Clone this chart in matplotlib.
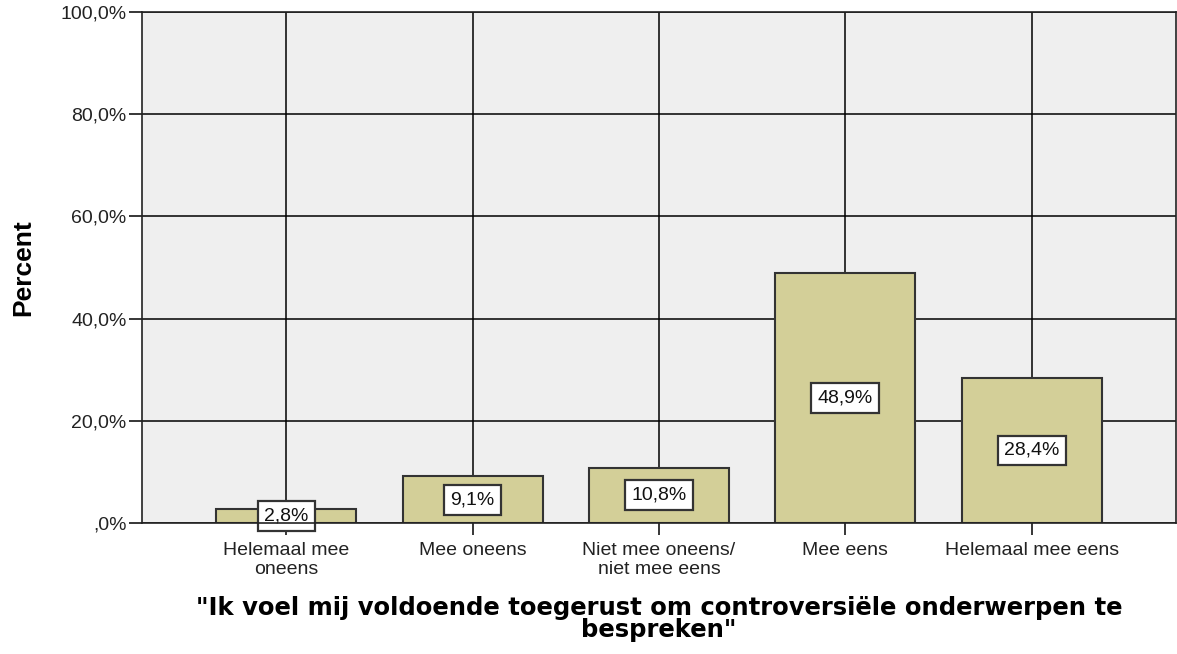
import matplotlib
matplotlib.use("Agg")
import matplotlib.pyplot as plt

# --- Data ---
categories = ["Helemaal mee\noneens", "Mee oneens", "Niet mee oneens/\nniet mee eens",
              "Mee eens", "Helemaal mee eens"]
percent = [2.8, 9.1, 10.8, 48.9, 28.4]
value_labels = ["2,8%", "9,1%", "10,8%", "48,9%", "28,4%"]
y_ticks = [0, 20, 40, 60, 80, 100]
y_ticklabels = [",0%", "20,0%", "40,0%", "60,0%", "80,0%", "100,0%"]

x_title = "\"Ik voel mij voldoende toegerust om controversiële onderwerpen te\nbespreken\""
y_title = "Percent"

plt.rcParams["font.family"] = ["Liberation Sans", "DejaVu Sans"]

# --- Plot ---
fig = plt.figure(figsize=(11.77, 6.54), dpi=100)
ax = fig.add_axes([0.1206, 0.2003, 0.8786, 0.7814])
ax.set_facecolor("#efefef")

x = list(range(len(categories)))
ax.bar(x, percent, width=0.75, color="#d3cf98", edgecolor="#333333",
       linewidth=1.5, zorder=3)

# value boxes in the middle of each bar
for xi, v, lab in zip(x, percent, value_labels):
    ax.text(xi, v / 2, lab, ha="center", va="center", fontsize=14, zorder=4,
            color="#111111",
            bbox=dict(boxstyle="square,pad=0.33", facecolor="white",
                      edgecolor="#333333", linewidth=1.6))

ax.set_xlim(-0.775, len(categories) - 1 + 0.775)
ax.set_ylim(0, 100)
ax.set_yticks(y_ticks)
ax.set_yticklabels(y_ticklabels, fontsize=14, color="#222222")
ax.set_xticks(x)
ax.set_xticklabels(categories, fontsize=14, linespacing=1.15, color="#222222")

ax.grid(True, color="black", linewidth=1.1, zorder=1)
ax.set_axisbelow(True)
ax.tick_params(axis="y", length=9.5, width=1.1, color="black", pad=1.5)
ax.tick_params(axis="x", length=8.5, width=1.1, color="black", pad=5)

for s in ax.spines.values():
    s.set_color("#222222")
    s.set_linewidth(1.2)
    s.set_zorder(5)

ax.set_ylabel(y_title, fontsize=19, fontweight="bold")
ax.yaxis.set_label_coords(-0.1035, 0.5)
ax.set_xlabel(x_title, fontsize=17.5, fontweight="bold", linespacing=0.9,
              family=["DejaVu Sans"])
ax.xaxis.set_label_coords(0.5, -0.142)
ax.xaxis.label.set_va("top")

fig.savefig("out.png", dpi=100)
